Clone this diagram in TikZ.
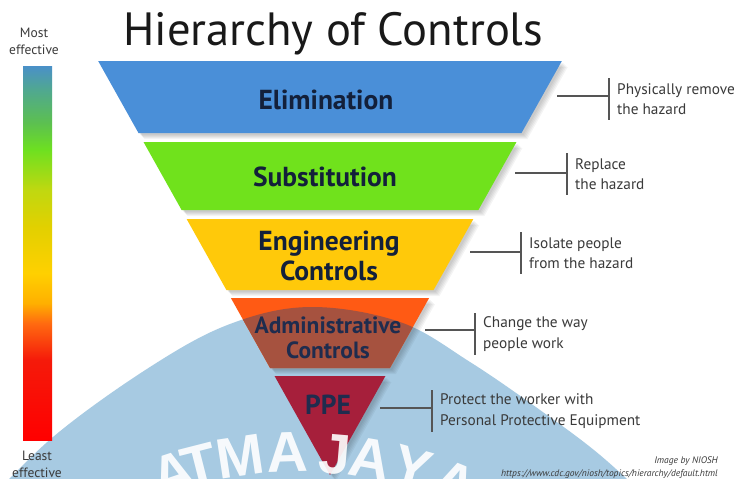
\documentclass[tikz,border=0pt]{standalone}
\usepackage{fontspec}
\setmainfont{PT Sans}
\newfontfamily\wmfont{Liberation Sans}
\usetikzlibrary{calc}

% colours
\definecolor{elimc}{HTML}{4A8FD8}
\definecolor{substc}{HTML}{70E21C}
\definecolor{engc}{HTML}{FFC90A}
\definecolor{adminc}{HTML}{FF5A14}
\definecolor{adminov}{HTML}{A6523F}
\definecolor{ppec}{HTML}{A61F3B}
\definecolor{wmblue}{HTML}{A7CAE2}
\definecolor{labnavy}{HTML}{13203A}
\definecolor{labnavyb}{HTML}{1F2C4E}
\definecolor{desctext}{HTML}{3A3A3A}
\definecolor{calloutc}{HTML}{555555}

% effectiveness bar stops
\definecolor{bs0}{HTML}{FF0000}
\definecolor{bs1}{HTML}{F51A0A}
\definecolor{bs2}{HTML}{FF6A10}
\definecolor{bs3}{HTML}{FFB000}
\definecolor{bs4}{HTML}{FFD000}
\definecolor{bs5}{HTML}{E2D000}
\definecolor{bs6}{HTML}{C0D810}
\definecolor{bs7}{HTML}{6EE020}
\definecolor{bs8}{HTML}{5CC050}
\definecolor{bs9}{HTML}{50A890}
\definecolor{bs10}{HTML}{4A90C8}
\pgfdeclareverticalshading{effbar}{100bp}{%
  color(0bp)=(bs0); color(25bp)=(bs0); color(35.7bp)=(bs1);
  color(40.6bp)=(bs2); color(43.3bp)=(bs3); color(47.3bp)=(bs4);
  color(53.5bp)=(bs5); color(58.4bp)=(bs6); color(63.8bp)=(bs7);
  color(67.4bp)=(bs8); color(71.8bp)=(bs9); color(75bp)=(bs10);
  color(100bp)=(bs10)}

\begin{document}
\begin{tikzpicture}[x=1pt,y=-1pt,
  title/.style={inner sep=0pt, text=black!90, font=\fontsize{46.6}{50}\selectfont},
  bandlab/.style={inner sep=0pt, align=center, text=labnavy,
    font=\bfseries\fontsize{27.5}{30}\selectfont},
  sidelab/.style={inner sep=0pt, align=center, text=desctext,
    font=\fontsize{13.5}{17}\selectfont},
  desc/.style={inner sep=0pt, align=left, text=desctext,
    font=\fontsize{15.3}{20.5}\selectfont},
  credit/.style={inner sep=0pt, text=desctext,
    font=\itshape\fontsize{9.5}{11}\selectfont},
  callout/.style={draw=calloutc, line width=1.1pt},
  wmletter/.style={inner sep=0pt, text=white, text opacity=0.9,
    font=\wmfont\bfseries\fontsize{57}{57}\selectfont},
  bandshadow/.style={fill=black, fill opacity=0.045}]

\useasboundingbox (0,0) rectangle (736,479);
\fill[white] (0,0) rectangle (736,479);

% watermark disc
\def\wmpath{plot[smooth, tension=0.6] coordinates {(-20,510) (53,437) (150,367)
  (230,324) (310,307) (400,322) (470,362) (540,410) (600,455) (660,510)} -- cycle}
\fill[wmblue] \wmpath;

% effectiveness bar
\shade[shading=effbar] (23,66) rectangle (52,440);
\node[sidelab] (most) at (34,41.5) {Most\\effective};
\node[sidelab] (least) at (37,464) {Least\\effective};

% title
\node[title, anchor=base west] (title) at (123,45) {Hierarchy of Controls};

% inverted pyramid: half width 0.56*(475-y) around x=330
\foreach \t/\b/\col in {61/133/elimc, 142/210/substc, 219/290/engc,
                        298/368/adminc, 376/475/ppec}{
  \foreach \d in {2,3,4,5,6}
    \fill[bandshadow, shift={(\d,\d)}]
      ({330-0.56*(475-\t)},\t) -- ({330+0.56*(475-\t)},\t) --
      ({330+0.56*(475-\b)},\b) -- ({330-0.56*(475-\b)},\b) -- cycle;
  \fill[\col]
    ({330-0.56*(475-\t)},\t) -- ({330+0.56*(475-\t)},\t) --
    ({330+0.56*(475-\b)},\b) -- ({330-0.56*(475-\b)},\b) -- cycle;
}
% part of the administrative band lying under the watermark
\begin{scope}
  \clip \wmpath;
  \fill[adminov] ({330-0.56*177},298) -- ({330+0.56*177},298) --
    ({330+0.56*107},368) -- ({330-0.56*107},368) -- cycle;
\end{scope}

% band labels
\node[bandlab] (elim) at (326,100) {Elimination};
\node[bandlab] (subst) at (325,177) {Substitution};
\node[bandlab] (eng) at (329,256) {Engineering\\Controls};
\node[bandlab, text=labnavyb, font=\bfseries\fontsize{23.5}{25}\selectfont]
  (admin) at (328,337.5) {Administrative\\Controls};
\node[bandlab, text=labnavyb] (ppe) at (328,405) {PPE};

% callouts
\foreach \i/\sx/\kx/\ly/\ty/\ta/\tb in {
  1/557/609/96/99/{Physically remove}/{the hazard},
  2/515/567/173/174/{Replace}/{the hazard},
  3/470/521/252/253/{Isolate people}/{from the hazard},
  4/425/475/330/334/{Change the way}/{people work},
  5/380/432/408/411/{Protect the worker with}/{Personal Protective Equipment}}{
  \coordinate (s\i) at (\sx,\ly);
  \coordinate (k\i) at (\kx,\ly);
  \coordinate (m\i) at (\kx,\ty);
  \draw[callout] (s\i) -- (k\i);
  \draw[callout] ([yshift=21pt]m\i) -- ([yshift=-21pt]m\i);
  \node[desc, anchor=west] (t\i) at ([xshift=8pt]m\i) {\ta\\\tb};
}

% credits
\node[credit, anchor=base east] (credit1) at (718,463) {Image by NIOSH};
\node[credit, anchor=base east] (credit2) at (718,476)
  {https://www.cdc.gov/niosh/topics/hierarchy/default.html};

% watermark lettering
\foreach \ch/\a [count=\n] in {A/-18.3, T/-14.3, M/-8.5, A/-1.8,
                                J/4.9, A/9.9, Y/16.0, A/22.4}
  \node[wmletter, rotate={-1*(\a)}, anchor=base] (wm\n)
    at ({300+386*sin(\a)},{858-386*cos(\a)}) {\ch};
\end{tikzpicture}
\end{document}
